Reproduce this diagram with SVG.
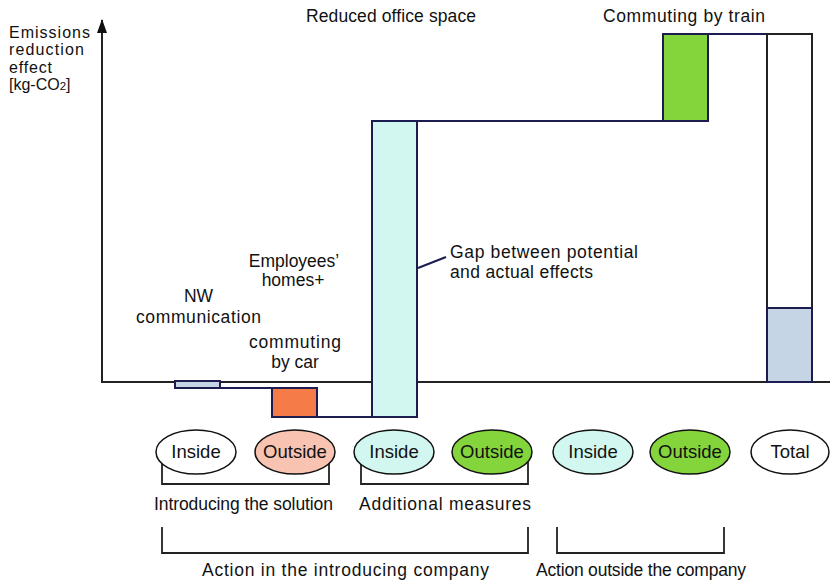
<svg xmlns="http://www.w3.org/2000/svg" width="830" height="580" viewBox="0 0 830 580">
<defs>
<marker id="arr" viewBox="0 0 14 10" refX="13" refY="5" markerWidth="14" markerHeight="10" markerUnits="userSpaceOnUse" orient="auto">
<path d="M0,0 L14,5 L0,10 Z" fill="#111"/>
</marker>
<style>
text{font-family:"Liberation Sans",Arial,sans-serif;fill:#111;}
.t{font-size:17.5px;}
.a{font-size:16px;}
.m{text-anchor:middle;}
.e{font-size:18.5px;text-anchor:middle;}
.bar{stroke:#1c1c50;stroke-width:2;}
.ln{fill:none;stroke:#1c1c50;stroke-width:2;}
.ax{fill:none;stroke:#222;stroke-width:2;}
.el{stroke:#111;stroke-width:1.5;}
.br{fill:none;stroke:#222;stroke-width:1.8;}
</style>
</defs>
<rect width="830" height="580" fill="#fff"/>

<g id="axis">
<line class="ax" x1="102" y1="383" x2="102" y2="20" marker-end="url(#arr)"/>
<line class="ax" x1="101" y1="382" x2="830" y2="382"/>
<text class="a" x="9" y="38" textLength="81" lengthAdjust="spacing">Emissions</text>
<text class="a" x="9" y="55.3" textLength="75" lengthAdjust="spacing">reduction</text>
<text class="a" x="9" y="72.6" textLength="43" lengthAdjust="spacing">effect</text>
<text class="a" x="9" y="89.9">[kg-CO<tspan font-size="11.5">2</tspan>]</text>
</g>

<g id="connectors">
<polyline class="ln" points="220,388 272,388"/>
<polyline class="ln" points="317,417 372,417"/>
<polyline class="ln" points="417,121 663,121"/>
<polyline class="ln" points="708,34 767,34"/>
<line class="ln" x1="418" y1="268" x2="446" y2="257"/>
</g>

<g id="bar-nw">
<rect class="bar" x="175" y="381" width="45" height="7" fill="#c5d5e6"/>
<text class="t m" x="198.5" y="302">NW</text>
<text class="t m" x="198.5" y="323" textLength="125" lengthAdjust="spacing">communication</text>
</g>

<g id="bar-car">
<rect class="bar" x="272" y="388" width="45" height="29" fill="#f57b48"/>
<text class="t m" x="294" y="267">Employees’</text>
<text class="t m" x="293" y="286">homes+</text>
<text class="t m" x="295" y="348" textLength="92" lengthAdjust="spacing">commuting</text>
<text class="t m" x="295" y="368">by car</text>
</g>

<g id="bar-office">
<rect class="bar" x="372" y="121" width="45" height="296" fill="#d2f7f0"/>
<text class="t m" x="391" y="22" textLength="170" lengthAdjust="spacing">Reduced office space</text>
</g>

<g id="bar-train">
<rect class="bar" x="663" y="34" width="45" height="87" fill="#84d43c"/>
<text class="t m" x="684" y="22" textLength="162" lengthAdjust="spacing">Commuting by train</text>
</g>

<g id="bar-total">
<rect x="767" y="34" width="45" height="348" fill="#fff" stroke="#222" stroke-width="2"/>
<rect class="bar" x="767" y="308" width="45" height="74" fill="#c5d5e6"/>
</g>

<g id="gap-label">
<text class="t" x="450" y="258" textLength="188" lengthAdjust="spacing">Gap between potential</text>
<text class="t" x="450" y="278" textLength="143" lengthAdjust="spacing">and actual effects</text>
</g>

<g id="brackets">
<polyline class="br" points="162,462 162,484 329,484 329,462"/>
<polyline class="br" points="361,462 361,484 528,484 528,462"/>
<polyline class="br" points="162,527 162,553 528,553 528,527"/>
<polyline class="br" points="557,527 557,553 724,553 724,527"/>
<text class="t m" x="243.5" y="510" textLength="179" lengthAdjust="spacing">Introducing the solution</text>
<text class="t m" x="445" y="510" textLength="172" lengthAdjust="spacing">Additional measures</text>
<text class="t m" x="345.5" y="576" textLength="287" lengthAdjust="spacing">Action in the introducing company</text>
<text class="t m" x="641" y="576" textLength="210" lengthAdjust="spacing">Action outside the company</text>
</g>

<g id="node-inside1"><ellipse class="el" cx="196" cy="452" rx="40" ry="22" fill="#fff"/><text class="e" x="196" y="458">Inside</text></g>
<g id="node-outside1"><ellipse class="el" cx="295" cy="452" rx="40" ry="22" fill="#f8c3b0"/><text class="e" x="295" y="458">Outside</text></g>
<g id="node-inside2"><ellipse class="el" cx="394" cy="452" rx="40" ry="22" fill="#d2f7f0"/><text class="e" x="394" y="458">Inside</text></g>
<g id="node-outside2"><ellipse class="el" cx="492" cy="452" rx="40" ry="22" fill="#84d43c"/><text class="e" x="492" y="458">Outside</text></g>
<g id="node-inside3"><ellipse class="el" cx="593" cy="452" rx="40" ry="22" fill="#d2f7f0"/><text class="e" x="593" y="458">Inside</text></g>
<g id="node-outside3"><ellipse class="el" cx="690" cy="452" rx="40" ry="22" fill="#84d43c"/><text class="e" x="690" y="458">Outside</text></g>
<g id="node-total"><ellipse class="el" cx="790" cy="452" rx="39" ry="22" fill="#fff"/><text class="e" x="790" y="458">Total</text></g>
</svg>
